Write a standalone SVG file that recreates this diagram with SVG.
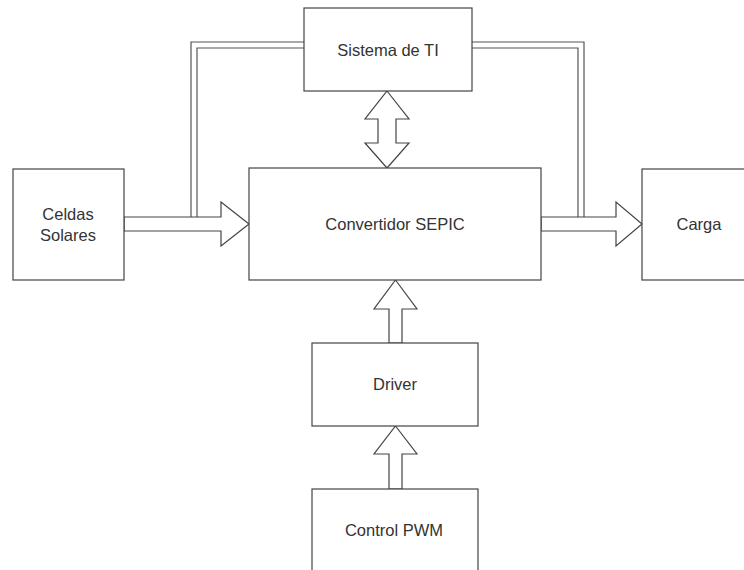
<svg xmlns="http://www.w3.org/2000/svg" width="744" height="570" viewBox="0 0 744 570">
<style>
.box{fill:#fff;stroke:#444;stroke-width:1.2}
.arr{fill:#fff;stroke:#444;stroke-width:1.2;stroke-linejoin:miter}
.dl-o{fill:none;stroke:#555;stroke-width:7.2}
.dl-i{fill:none;stroke:#fff;stroke-width:4.8}
text{font-family:"Liberation Sans",Arial,sans-serif;font-size:16.5px;fill:#333;text-anchor:middle}
</style>
<rect width="744" height="570" fill="#fff"/>
<g id="connectors">
<path class="dl-o" d="M304,45 H194 V217"/>
<path class="dl-i" d="M304.6,45 H194 V217.6"/>
<path class="dl-o" d="M472,45 H581 V217"/>
<path class="dl-i" d="M471.4,45 H581 V217.6"/>
<polygon class="arr" points="124,217 221,217 221,202 249,224 221,246 221,231 124,231"/>
<polygon class="arr" points="541,217 616,217 616,202 642,224 616,246 616,231 541,231"/>
<polygon class="arr" points="387,91 409,119 396,119 396,143 409,143 387,168 365,143 378,143 378,119 365,119"/>
<polygon class="arr" points="395.5,280 417,309 402,309 402,343 389,343 389,309 374,309"/>
<polygon class="arr" points="395.5,426 417,454 402,454 402,489 389,489 389,454 374,454"/>
</g>
<g id="sistema"><rect class="box" x="304" y="8" width="168" height="83"/><text x="388" y="56">Sistema de TI</text></g>
<g id="convertidor"><rect class="box" x="249" y="168" width="292" height="112"/><text x="395" y="230">Convertidor SEPIC</text></g>
<g id="celdas"><rect class="box" x="13" y="169" width="111" height="111"/><text x="68" y="220">Celdas</text><text x="68" y="241">Solares</text></g>
<g id="carga"><rect class="box" x="642" y="169" width="120" height="111"/><text x="699" y="230">Carga</text></g>
<g id="driver"><rect class="box" x="312" y="343" width="166" height="83"/><text x="395" y="390">Driver</text></g>
<g id="control"><rect class="box" x="312" y="489" width="166" height="100"/><text x="394" y="536">Control PWM</text></g>
</svg>
